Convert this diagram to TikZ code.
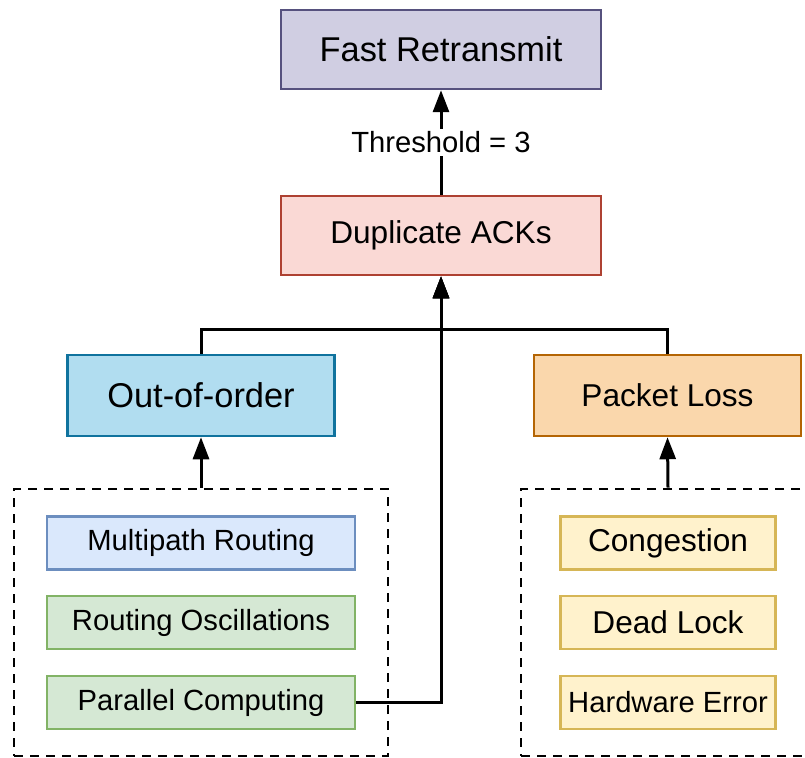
\documentclass[tikz,border=0pt]{standalone}
\usepackage{fontspec}
\setmainfont{Liberation Sans}
\usetikzlibrary{arrows.meta}
\definecolor{frfill}{HTML}{D0CEE2}\definecolor{frdraw}{HTML}{56517E}
\definecolor{dafill}{HTML}{FAD9D5}\definecolor{dadraw}{HTML}{AE4132}
\definecolor{oofill}{HTML}{B1DDF0}\definecolor{oodraw}{HTML}{10739E}
\definecolor{plfill}{HTML}{FAD7AC}\definecolor{pldraw}{HTML}{B46504}
\definecolor{mpfill}{HTML}{DAE8FC}\definecolor{mpdraw}{HTML}{6C8EBF}
\definecolor{gnfill}{HTML}{D5E8D4}\definecolor{gndraw}{HTML}{82B366}
\definecolor{ylfill}{HTML}{FFF2CC}\definecolor{yldraw}{HTML}{D6B656}
\newcommand{\fsA}{\fontsize{34.4}{40}\selectfont}
\newcommand{\fsB}{\fontsize{31.6}{37}\selectfont}
\newcommand{\fsC}{\fontsize{29.2}{34}\selectfont}
\tikzset{
  box/.style={draw, line width=2.5pt, inner sep=0pt, rectangle},
  bigbox/.style={box, minimum width=320pt, minimum height=79pt},
  midbox/.style={box, minimum width=267pt, minimum height=81pt},
  leftbox/.style={box, minimum width=308pt, minimum height=53pt, font=\fsC},
  rightbox/.style={box, minimum width=215pt, minimum height=53pt},
  dashbox/.style={draw, line width=2.8pt, dash pattern=on 9pt off 7pt, inner sep=0pt, rectangle},
  arr/.style={line width=3pt, -{Triangle[length=22pt,width=16pt]}},
  ln/.style={line width=3pt}
}
\begin{document}
\begin{tikzpicture}[x=1pt,y=-1pt]
\useasboundingbox (0,0) rectangle (805,757);
\node[bigbox, fill=frfill, draw=frdraw, font=\fsA] (fr) at (441,49.5) {Fast Retransmit};
\node[bigbox, fill=dafill, draw=dadraw, font=\fsB] (da) at (441,235.5) {Duplicate ACKs};
\node[midbox, fill=oofill, draw=oodraw, font=\fsA] (oo) at (201,395.5) {Out-of-order};
\node[midbox, fill=plfill, draw=pldraw, font=\fsB] (pl) at (667.5,395.5) {Packet Loss};
\node[dashbox, minimum width=374pt, minimum height=267pt] (lg) at (201,622.5) {};
\node[dashbox, minimum width=294pt, minimum height=267pt] (rg) at (668,622.5) {};
\node[leftbox, fill=mpfill, draw=mpdraw] (mp) at (201,543) {Multipath Routing};
\node[leftbox, fill=gnfill, draw=gndraw] (ro) at (201,622.5) {Routing Oscillations};
\node[leftbox, fill=gnfill, draw=gndraw] (pc) at (201,702.5) {Parallel Computing};
\node[rightbox, fill=ylfill, draw=yldraw, font=\fsB] (cg) at (668,543) {Congestion};
\node[rightbox, fill=ylfill, draw=yldraw, font=\fsB] (dl) at (668,622.5) {Dead Lock};
\node[rightbox, fill=ylfill, draw=yldraw, font=\fsC] (hw) at (668,702.5) {Hardware Error};
\coordinate (j) at (441,329);
\draw[arr] (da.north) -- node[fill=white, font=\fsC, inner sep=3pt] (th) {Threshold = 3} (fr.south);
\draw[arr] (lg.north) -- (oo.south);
\draw[arr] (rg.north) -- (pl.south);
\draw[arr] (oo.north) |- (j) -- (da.south);
\draw[arr] (pl.north) |- (j) -- (da.south);
\draw[arr] (pc.east) -| (da.south);
\end{tikzpicture}
\end{document}
